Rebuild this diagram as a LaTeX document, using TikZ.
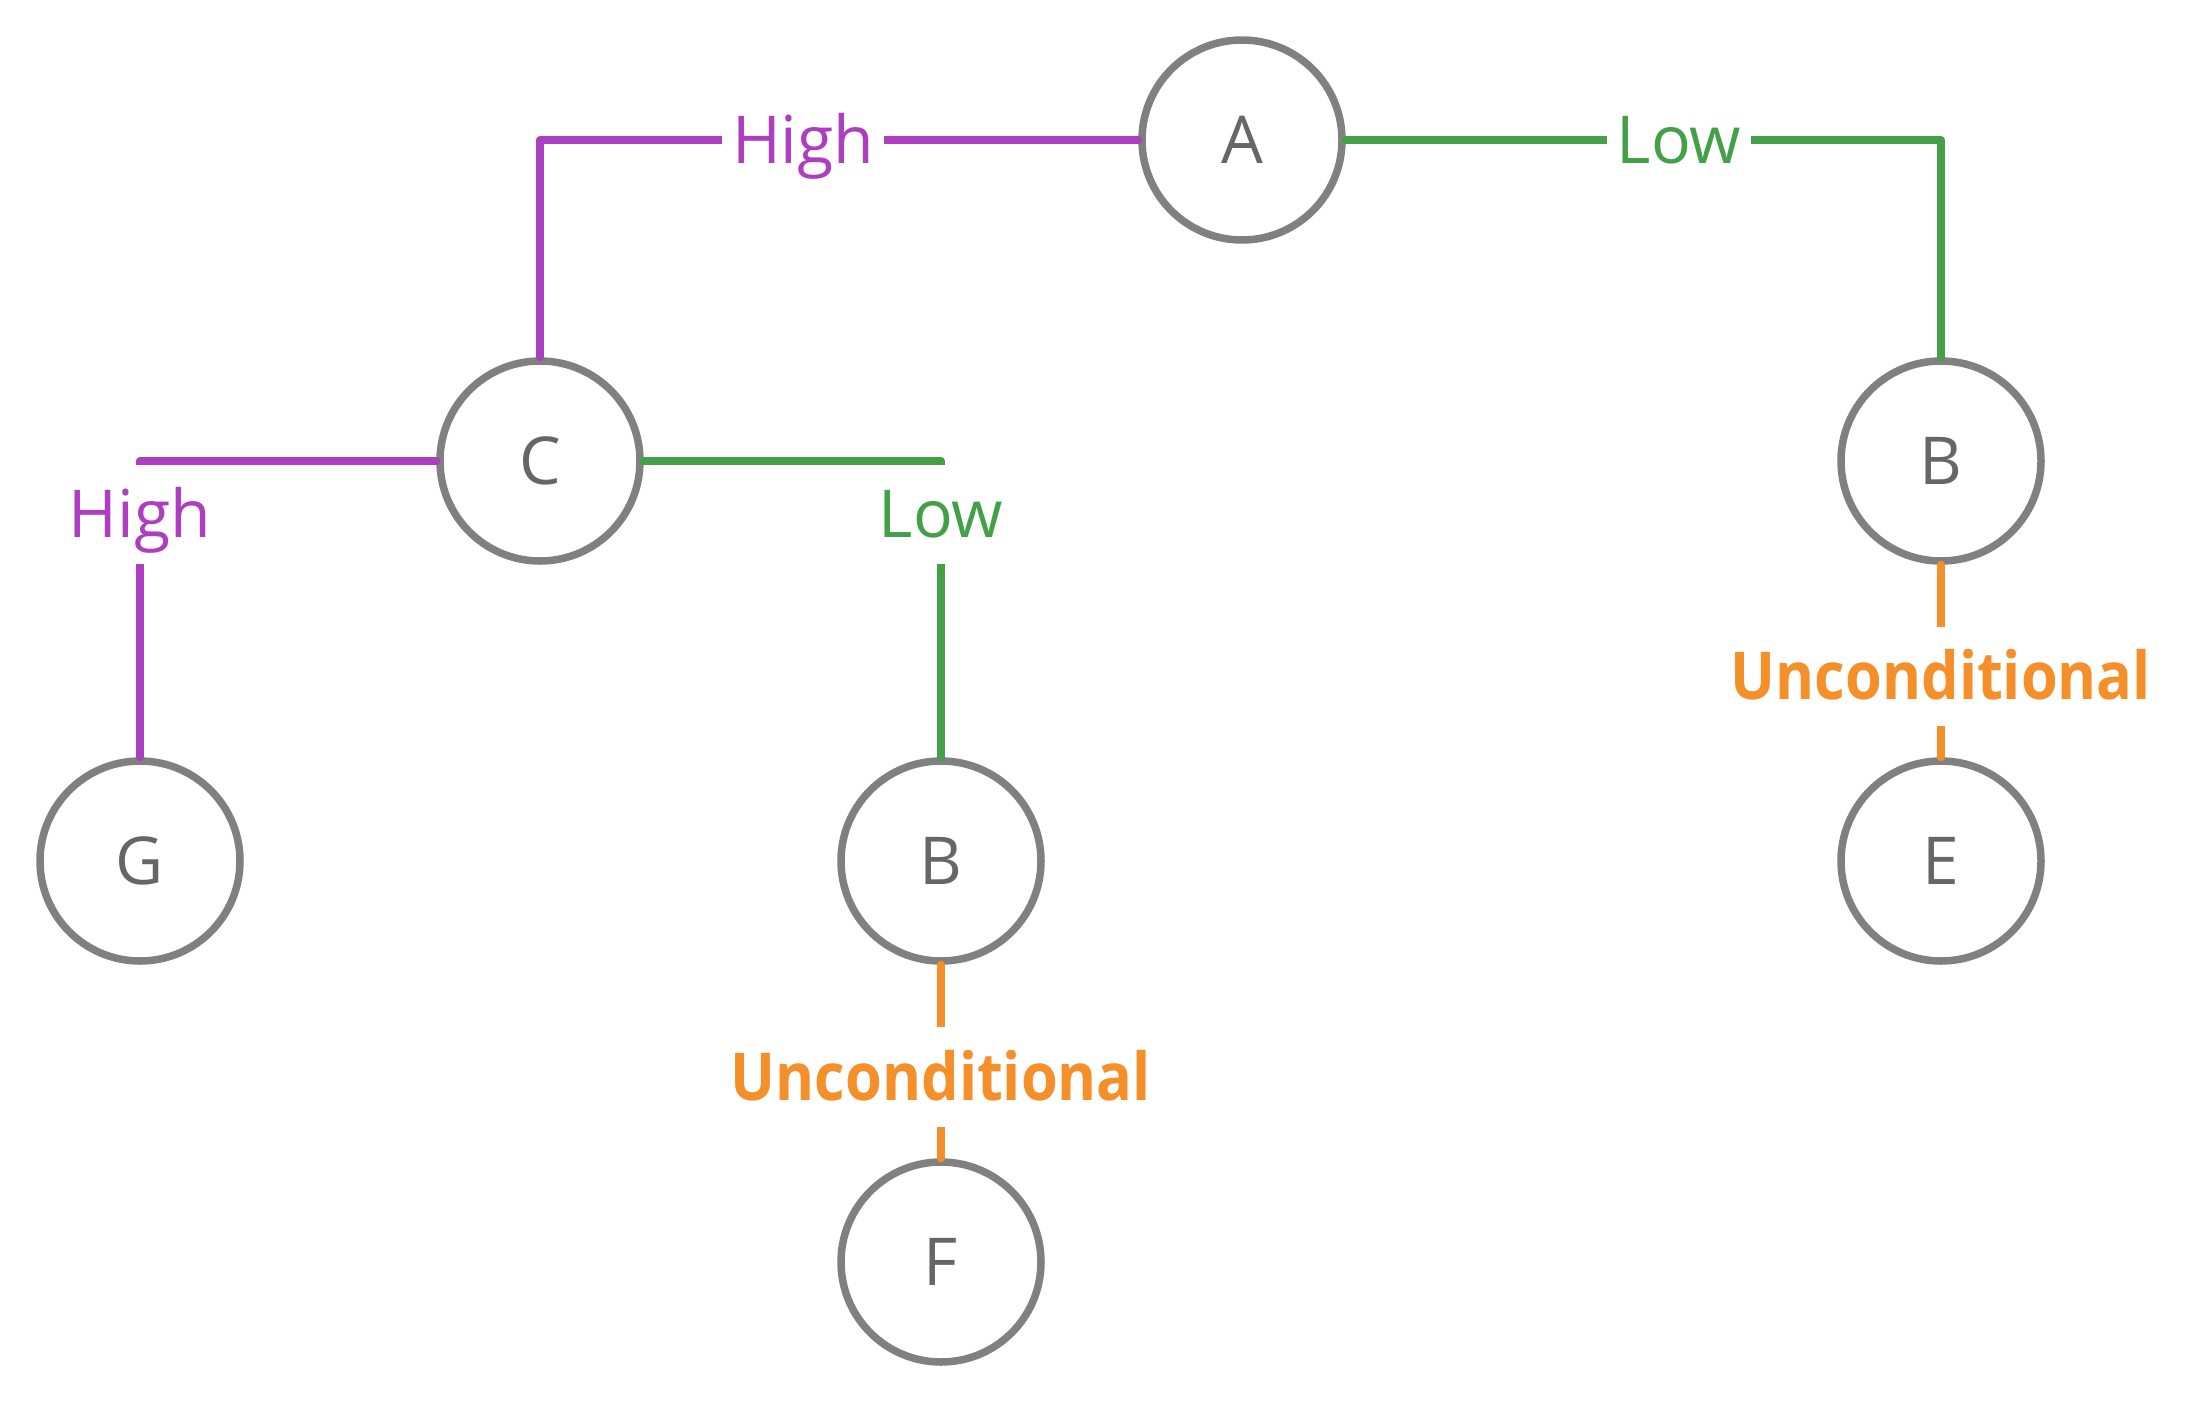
\documentclass[tikz,border=0pt]{standalone}
\usepackage{fontspec}
\setmainfont{Open Sans}
\newfontfamily\uncondfont{Open Sans}[FakeStretch=0.9]
\usepackage{xcolor}
\usetikzlibrary{positioning}

\definecolor{highc}{HTML}{AE3EC0}
\definecolor{lowc}{HTML}{43A047}
\definecolor{uncondc}{HTML}{F58F29}
\definecolor{ringc}{HTML}{808080}
\definecolor{letterc}{HTML}{666666}

\begin{document}
\begin{tikzpicture}[node distance=4cm, on grid,
    vertex/.style={circle, draw=ringc, line width=0.075cm, fill=white,
      minimum size=2cm, inner sep=0pt, text=letterc,
      font=\fontsize{18.8}{22}\selectfont},
    lbl/.style={draw=none, fill=white, inner sep=0.1cm, text height=17.9pt, text depth=4.7pt,
      font=\fontsize{18.8}{22}\selectfont},
    hv/.style={to path={-| (\tikztotarget) \tikztonodes}},
    high/.style={draw=highc, text=highc},
    low/.style={draw=lowc, text=lowc},
    uncond/.style={draw=uncondc, text=uncondc},
    line width=0.08cm, line cap=round, line join=round]
  \useasboundingbox (0,0) rectangle (21.91,-14);

  \node[vertex]   (C)  at (5.40,-4.61)                       {C};
  \node[vertex]   (A)  [above right=3.21cm and 7.02cm of C]  {A};
  \node[vertex]   (B2) [right=14.01cm of C]                  {B};
  \node[vertex]   (G)  [below left=4cm and 4cm of C]         {G};
  \node[vertex]   (B1) [below right=4cm and 4.01cm of C]     {B};
  \node[vertex]   (F)  [below=4.01cm of B1]                  {F};
  \node[vertex]   (E)  [below=4cm of B2]                     {E};

  \path (A)  edge [high, hv] node [high, lbl, pos=0.28] {High} (C)
             edge [low, hv]  node [low, lbl, pos=0.28]  {Low}  (B2)
        (C)  edge [high, hv] node [high, lbl, pos=0.59] {High} (G)
             edge [low, hv]  node [low, lbl, pos=0.59]  {Low}  (B1)
        (B1) edge [uncond]   node [uncond, lbl, pos=0.58,
                                   font=\fontsize{18.8}{22}\uncondfont\bfseries] {Unconditional} (F)
        (B2) edge [uncond]   node [uncond, lbl, pos=0.58,
                                   font=\fontsize{18.8}{22}\uncondfont\bfseries] {Unconditional} (E)
        ;
\end{tikzpicture}
\end{document}
